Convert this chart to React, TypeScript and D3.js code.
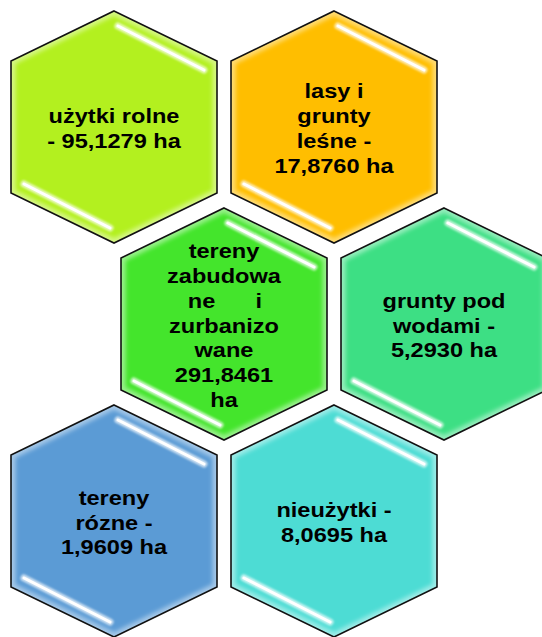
import React from 'react';
import * as d3 from 'd3';

// land-use categories, one hexagon each (reading order: row by row)
const labelLines: string[][] = [
  ['użytki rolne', '- 95,1279 ha'],
  ['lasy i', 'grunty', 'leśne -', '17,8760 ha'],
  ['tereny', 'zabudowa', 'ne|i', 'zurbanizo', 'wane', '291,8461', 'ha'],
  ['grunty pod', 'wodami -', '5,2930 ha'],
  ['tereny', 'rózne -', '1,9609 ha'],
  ['nieużytki -', '8,0695 ha'],
];
const areas = [95.1279, 17.876, 291.8461, 5.293, 1.9609, 8.0695];
const colors = ['#b3f01f', '#ffbe00', '#44e52c', '#3ddf84', '#5b9bd5', '#4ddcd4'];

const W = 542;
const H = 637;

const App: React.FC = () => {
  // honeycomb grid: 2 per row, odd rows shifted by half a column
  const xScale = d3.scaleLinear().domain([0, 1]).range([114, 334]);
  const yScale = d3.scaleLinear().domain([0, 2]).range([127, 521]);

  const hw = 103; // half width
  const tip = 116; // centre to top/bottom vertex
  const side = 66; // centre to side corner (vertical)
  const hexPts: [number, number][] = [
    [0, -tip], [hw, -side], [hw, side], [0, tip], [-hw, side], [-hw, -side],
  ];
  const hexPath = d3.line().curve(d3.curveLinearClosed)(hexPts) as string;
  const hl = d3.line();

  const lh = 24.7;

  return (
    <svg width={W} height={H} style={{ position: 'absolute', left: 0, top: 0 }}>
      <defs>
        <clipPath id="hexClip">
          <path d={hexPath} />
        </clipPath>
        <filter id="soft" x="-20%" y="-20%" width="140%" height="140%">
          <feGaussianBlur stdDeviation="2" />
        </filter>
        <filter id="glow" x="-20%" y="-50%" width="140%" height="200%">
          <feGaussianBlur stdDeviation="1.2" />
        </filter>
      </defs>
      {areas.map((a, i) => {
        const row = Math.floor(i / 2);
        const col = (i % 2) + (row % 2 ? 0.5 : 0);
        const cx = xScale(col);
        const cy = yScale(row);
        const lines = labelLines[i];
        const first = -((lines.length - 1) / 2) * lh + 8.5;
        return (
          <g key={i} transform={`translate(${cx},${cy})`} data-value={a}>
            <path d={hexPath} fill={colors[i]} />
            <g clipPath="url(#hexClip)">
              <path d={hexPath} fill="none" stroke="#fff" strokeOpacity={0.45} strokeWidth={9} filter="url(#soft)" />
            </g>
            <path d={hexPath} fill="none" stroke="#111" strokeWidth={1.6} strokeLinejoin="miter" />
            {/* glossy highlights */}
            {[
              [[4, -101], [90, -57]],
              [[-90, 57], [-4, 101]],
            ].map((seg, k) => (
              <g key={k}>
                <path d={hl(seg as [number, number][]) as string} stroke="#fff" strokeOpacity={0.7} strokeWidth={7} strokeLinecap="round" filter="url(#glow)" />
                <path d={hl(seg as [number, number][]) as string} stroke="#fff" strokeWidth={3} strokeLinecap="round" />
              </g>
            ))}
            <g transform="scale(1.15,1)" fontFamily="'Liberation Sans', Arial, sans-serif" fontWeight="bold" fontSize={20.5} fill="#000">
              {lines.map((ln, j) => {
                const y = first + j * lh;
                if (ln.includes('|')) {
                  const [l, r] = ln.split('|');
                  return (
                    <g key={j}>
                      <text x={-31.5} y={y} textAnchor="start">{l}</text>
                      <text x={33} y={y} textAnchor="end">{r}</text>
                    </g>
                  );
                }
                return (
                  <text key={j} x={0} y={y} textAnchor="middle">{ln}</text>
                );
              })}
            </g>
          </g>
        );
      })}
    </svg>
  );
};

export default App;
